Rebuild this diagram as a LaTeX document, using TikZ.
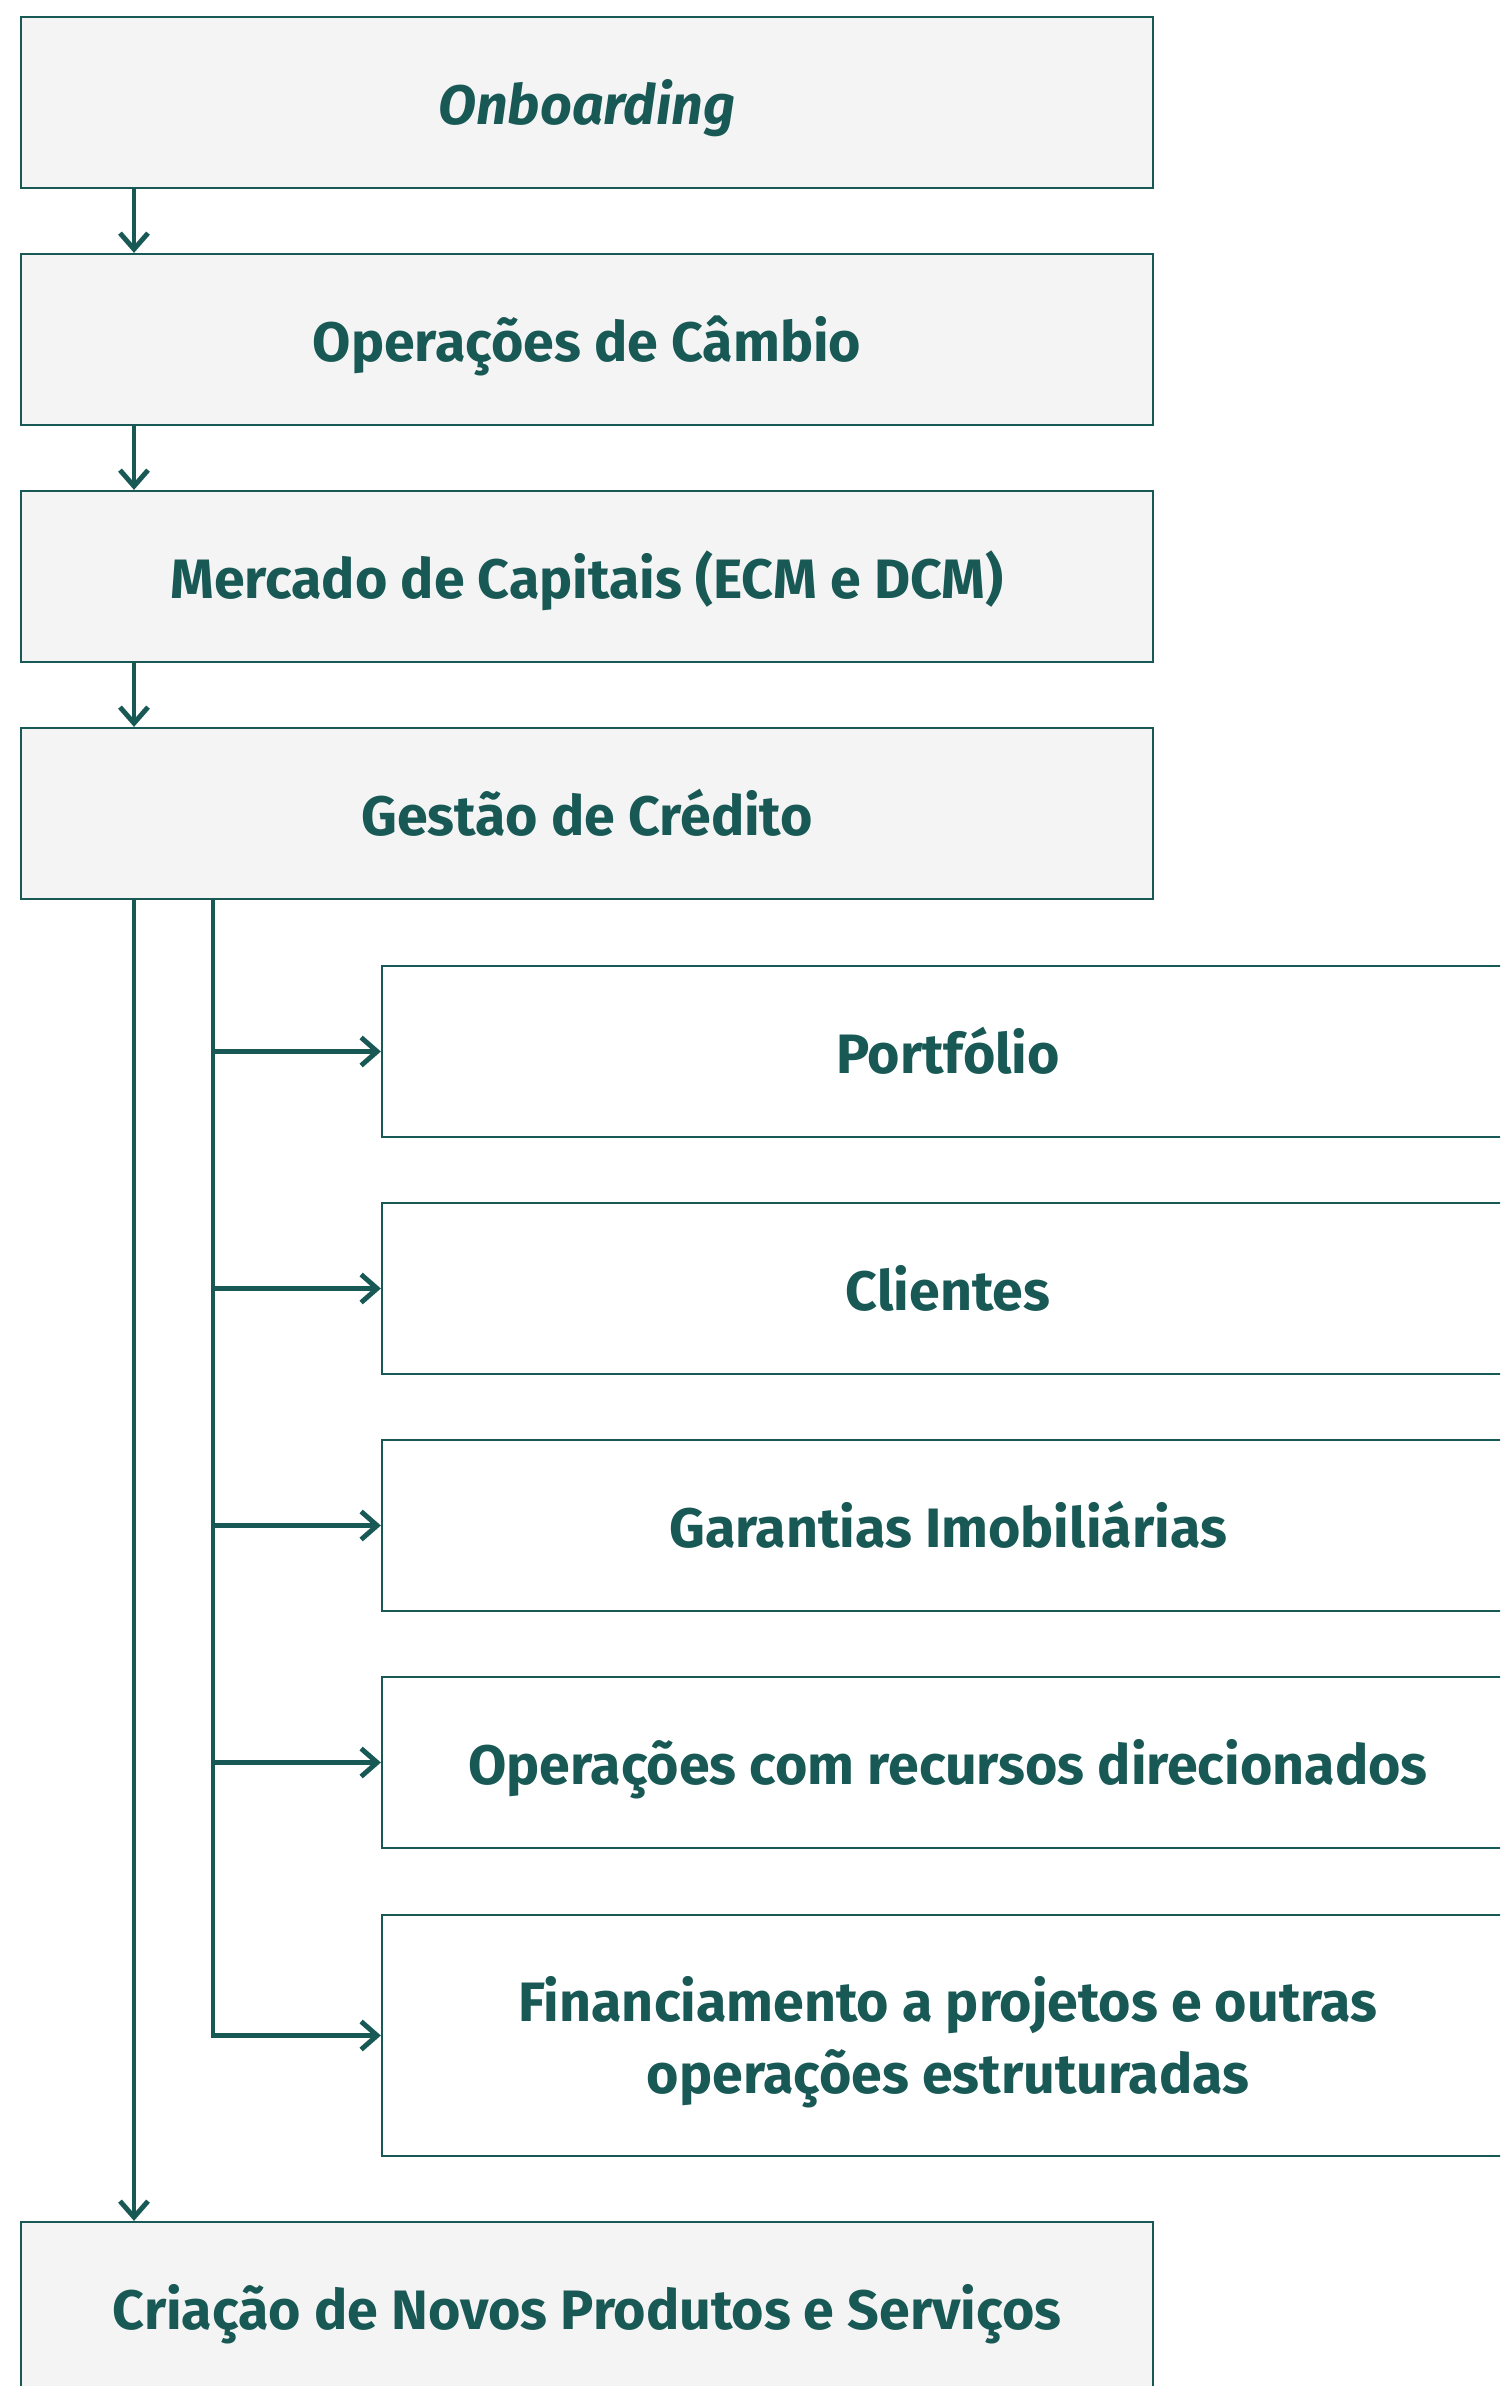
\documentclass[tikz,border=0pt]{standalone}
\usepackage{fontspec}
\setmainfont{Fira Sans}
\usetikzlibrary{arrows.meta,positioning}
\definecolor{ink}{HTML}{195955}
\definecolor{boxgray}{HTML}{F4F4F4}

\begin{document}
\begin{tikzpicture}[>={Straight Barb[length=1.6mm,width=2.8mm]},line join=miter,
  mainbox/.style={draw=ink,fill=boxgray,line width=0.65pt,minimum width=11.32cm,
    minimum height=1.71cm,inner sep=0pt,align=center,text=ink,
    text height=13pt,text depth=0.6pt,
    font=\bfseries\fontsize{15.8}{20.5}\selectfont},
  subbox/.style={mainbox,fill=white},
  link/.style={draw=ink,line width=1.4pt}]
  \clip (0,0) rectangle (15,-23.86);
  % main column
  \node[mainbox] (onb) at (5.87,-1.025){\itshape Onboarding};
  \node[mainbox] (cambio) at (5.87,-3.395){Operações de Câmbio};
  \node[mainbox] (capitais) at (5.87,-5.765){Mercado de Capitais (ECM e DCM)};
  \node[mainbox] (credito) at (5.87,-8.135){Gestão de Crédito};
  % credit sub-areas
  \node[subbox] (port) at (9.48,-10.515){Portfólio};
  \node[subbox] (cli) at (9.48,-12.885){Clientes};
  \node[subbox] (gar) at (9.48,-15.255){Garantias Imobiliárias};
  \node[subbox] (rec) at (9.48,-17.625){Operações com recursos direcionados};
  \node[subbox,minimum height=2.41cm,text height=33.5pt] (fin) at (9.48,-20.355)
    {Financiamento a projetos e outras\\operações estruturadas};
  \node[mainbox] (novos) at (5.87,-23.075){Criação de Novos Produtos e Serviços};
  \coordinate (trunk) at (1.34,0);
  \coordinate (branch) at (2.13,0);
  \draw[link,->] (onb.south -| trunk) -- (cambio.north -| trunk);
  \draw[link,->] (cambio.south -| trunk) -- (capitais.north -| trunk);
  \draw[link,->] (capitais.south -| trunk) -- (credito.north -| trunk);
  \draw[link,->] (credito.south -| trunk) -- (novos.north -| trunk);
  \foreach \n in {port,cli,gar,rec,fin}
    \draw[link,->] (credito.south -| branch) |- (\n.west);
\end{tikzpicture}
\end{document}
